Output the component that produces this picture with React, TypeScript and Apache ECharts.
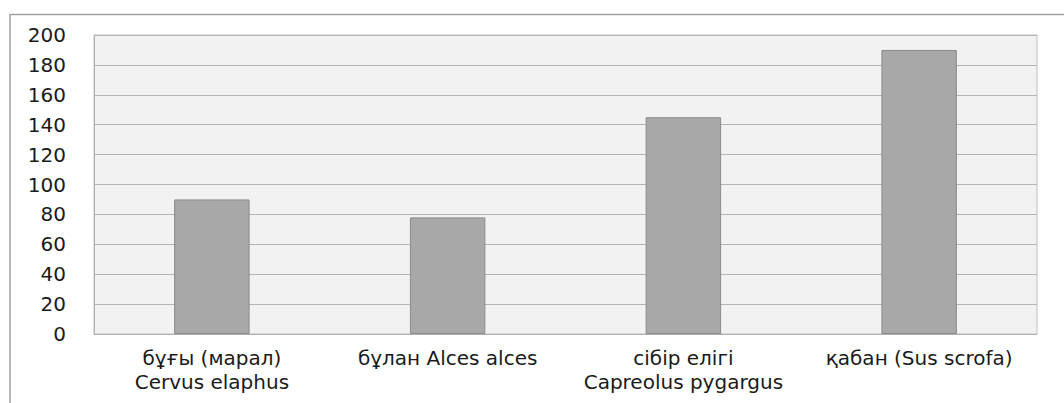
import React, { useEffect, useRef } from "react";
import * as echarts from "echarts";

const categories = [
  "бұғы (марал)\nCervus elaphus",
  "бұлан Alces alces",
  "сібір елігі\nCapreolus pygargus",
  "қабан (Sus scrofa)",
];
const values = [90, 78, 145, 190];

export default function App() {
  const ref = useRef<HTMLDivElement>(null);
  useEffect(() => {
    const chart = echarts.init(ref.current!, null, { renderer: "svg" });
    chart.setOption({
      animation: false,
      backgroundColor: "#ffffff",
      graphic: [
        {
          type: "polyline",
          shape: { points: [[10, 403], [10, 14.5], [1064, 14.5]] },
          style: { stroke: "#a0a0a0", lineWidth: 1.5, fill: "none" },
          silent: true,
        },
      ],
      grid: {
        left: 94,
        right: 27,
        top: 35,
        bottom: 69,
        show: true,
        backgroundColor: "#f2f2f2",
        borderColor: "#c0c0c0",
        borderWidth: 1,
      },
      xAxis: {
        type: "category",
        data: categories,
        axisLine: { show: true, lineStyle: { color: "#b0b0b0" } },
        axisTick: { show: false },
        axisLabel: {
          color: "#1a1a1a",
          fontFamily: "DejaVu Sans",
          fontSize: 20,
          lineHeight: 24,
          margin: 12,
          interval: 0,
        },
      },
      yAxis: {
        type: "value",
        min: 0,
        max: 200,
        interval: 20,
        axisLine: { show: true, lineStyle: { color: "#b0b0b0" } },
        axisTick: { show: false },
        splitLine: { lineStyle: { color: "#b4b4b4", width: 1 } },
        axisLabel: {
          color: "#1a1a1a",
          fontFamily: "DejaVu Sans",
          fontSize: 20,
          margin: 28,
        },
      },
      series: [
        {
          type: "bar",
          data: values,
          barWidth: "32%",
          itemStyle: {
            color: "#a8a8a8",
            borderColor: "#8a8a8a",
            borderWidth: 1,
          },
        },
      ],
    });
    return () => chart.dispose();
  }, []);
  return (
    <div
      ref={ref}
      style={{ position: "absolute", left: 0, top: 0, width: 1064, height: 403 }}
    />
  );
}
